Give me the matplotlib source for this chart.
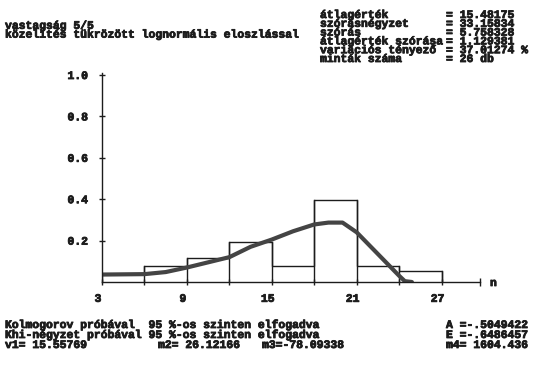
import numpy as np
import matplotlib.pyplot as plt
import matplotlib.patheffects as pe
from matplotlib.transforms import ScaledTranslation

# ==========================[Data]=============================
bin_edges = [3, 6, 9, 12, 15, 18, 21, 24, 27]
rel_freq = [0.038, 0.075, 0.117, 0.194, 0.078, 0.397, 0.078, 0.052]

# fitted (mirrored lognormal) density curve
curve_x = [3, 6, 7.5, 9, 10.5, 12, 13.5, 15, 16.5, 18, 19, 20, 21, 22, 23, 24, 24.4, 24.9]
curve_y = [0.036, 0.038, 0.048, 0.07, 0.095, 0.12, 0.17, 0.205, 0.245, 0.278,
           0.287, 0.287, 0.24, 0.17, 0.10, 0.03, 0.004, 0.0]

x_ticks = [3, 6, 9, 12, 15, 18, 21, 24, 27]
x_labels = ['3', '', '9', '', '15', '', '21', '', '27']
y_ticks = [0.2, 0.4, 0.6, 0.8, 1.0]
y_labels = ['0.2', '0.4', '0.6', '0.8', '1.0']

title_lines = ['vastagság 5/5', 'közelítés tükrözött lognormális eloszlással']
stat_names = ['átlagérték', 'szórásnégyzet', 'szórás', 'átlagérték szórása',
              'variációs tényező', 'minták száma']
stat_values = ['15.48175', '33.15834', '5.758328', '1.129381', '37.01274 %', '26 db']

test_lines = ['Kolmogorov próbával  95 %-os szinten elfogadva',
              'Khi-négyzet próbával 95 %-os szinten elfogadva']
skew_kurt = ['A =-.5049422', 'E =-.6486457']
moments = ['v1= 15.55769', 'm2= 26.12166', 'm3=-78.09338', 'm4= 1604.436']

# ==========================[Figure]=============================
W, H = 534, 365
ink = '#1c1c1c'
heavy = [pe.withStroke(linewidth=0.6, foreground=ink)]
font = dict(family='Liberation Mono', weight='bold', size=8.2, color=ink)

fig = plt.figure(figsize=(W / 100, H / 100), dpi=100)


def put(x, y, s):
    t = fig.text(x / W, 1 - y / H, s, ha='left', va='center', **font)
    t.set_path_effects(heavy)


# axes box in pixels: x 102..480, y 282..73
left, right, bottom, top = 102, 480, 282, 73
ax = fig.add_axes([left / W, 1 - bottom / H, (right - left) / W, (bottom - top) / H])
ax.set_xlim(3, 3 + (right - left) / 14.15)
ax.set_ylim(0, (bottom - top) / 207)

# histogram (outlined bars)
ax.stairs(rel_freq, bin_edges, color=ink, linewidth=1.0)
for e, hl, hr in zip(bin_edges[1:-1], rel_freq[:-1], rel_freq[1:]):
    ax.plot([e, e], [0, max(hl, hr)], color=ink, linewidth=1.0)
ax.plot([bin_edges[-1]] * 2, [0, rel_freq[-1]], color=ink, linewidth=1.0)

# fitted curve
ax.plot(curve_x, curve_y, color='#444444', linewidth=3.0, solid_capstyle='round')

for s in ['top', 'right']:
    ax.spines[s].set_visible(False)
for s in ['left', 'bottom']:
    ax.spines[s].set_color(ink)
    ax.spines[s].set_linewidth(1.0)

ax.set_xticks(x_ticks)
ax.set_xticklabels(x_labels, **font)
ax.set_yticks(y_ticks)
ax.set_yticklabels(y_labels, **font)
ax.tick_params(axis='x', direction='inout', length=5, width=1, colors=ink, pad=6)
ax.tick_params(axis='y', direction='inout', length=4, width=1, colors=ink, pad=8)
shift = ScaledTranslation(-4 / 100, 0, fig.dpi_scale_trans)
for lab in ax.get_xticklabels():
    lab.set_transform(lab.get_transform() + shift)
    lab.set_path_effects(heavy)
for lab in ax.get_yticklabels():
    lab.set_path_effects(heavy)
ax.set_facecolor('none')

# end mark of x-axis and its label
ax.plot([1], [0], marker='|', markersize=6, color=ink, transform=ax.transAxes, clip_on=False)
put(490, 283, 'n')

# ==========================[Texts]=============================
y0, dy = 15, 8.8
for i, (n, v) in enumerate(zip(stat_names, stat_values)):
    put(320, y0 + i * dy, n)
    put(446, y0 + i * dy, '= ' + v)
for i, t in enumerate(title_lines):
    put(5, y0 + (i + 1) * dy + 2, t)

put(5, 325, test_lines[0])
put(5, 335, test_lines[1])
put(446, 325, skew_kurt[0])
put(446, 335, skew_kurt[1])
for xm, m in zip([5, 158, 262, 446], moments):
    put(xm, 345, m)

plt.savefig('out.png', dpi=100)
